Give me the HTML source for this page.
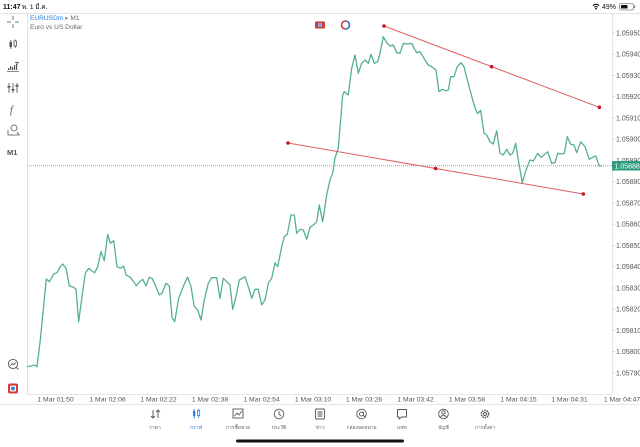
<!DOCTYPE html>
<html><head><meta charset="utf-8">
<style>
html,body{margin:0;padding:0;background:#fff;}
body{width:640px;height:447px;overflow:hidden;font-family:"Liberation Sans","Noto Sans CJK SC",sans-serif;}
svg{display:block;}
</style></head>
<body>
<svg width="640" height="447" viewBox="0 0 640 447" xmlns="http://www.w3.org/2000/svg" font-family="Liberation Sans, Noto Sans CJK SC, sans-serif">
<!-- status bar -->
<text x="3" y="9" font-size="7" font-weight="bold" fill="#111">11:47</text>
<text x="22" y="9" font-size="6.5" fill="#111">พ. 1 มี.ค.</text>
<g fill="#111">
<path d="M592.5 5.2 a5 5 0 0 1 7 0 l-0.8 0.8 a3.9 3.9 0 0 0 -5.4 0z"/>
<path d="M594 6.8 a2.8 2.8 0 0 1 4 0 l-0.8 0.8 a1.7 1.7 0 0 0 -2.4 0z"/>
<circle cx="596" cy="8.6" r="0.9"/>
</g>
<text x="602" y="9" font-size="7" fill="#111">49%</text>
<rect x="619.5" y="3.5" width="14" height="6.5" rx="1.6" fill="none" stroke="#888" stroke-width="0.8"/>
<rect x="621" y="5" width="6.5" height="3.5" rx="0.6" fill="#111"/>
<rect x="634" y="5.5" width="1.2" height="2.5" fill="#888"/>

<!-- frame lines -->
<line x1="0" y1="13.5" x2="640" y2="13.5" stroke="#e2e2e2" stroke-width="1"/>
<line x1="27.5" y1="13" x2="27.5" y2="394" stroke="#e2e2e2" stroke-width="1"/>
<line x1="27" y1="394.5" x2="612" y2="394.5" stroke="#e6e6e6" stroke-width="1"/>
<line x1="612.5" y1="13" x2="612.5" y2="394" stroke="#e6e6e6" stroke-width="1"/>
<line x1="0" y1="404.5" x2="640" y2="404.5" stroke="#e6e6e6" stroke-width="1"/>

<!-- header -->
<text x="30" y="20" font-size="6.6" fill="#2a7de1">EURUSDm <tspan fill="#888">▸</tspan> <tspan fill="#666">M1</tspan></text>
<text x="30" y="29" font-size="6.6" fill="#666">Euro vs US Dollar</text>

<!-- top icons -->
<rect x="315" y="21.5" width="10" height="7" rx="1" fill="#d23a36"/>
<rect x="318" y="23" width="4" height="4" fill="#7aa6e8"/>
<circle cx="345.5" cy="25" r="4" fill="none" stroke="#d23a36" stroke-width="1.6"/>
<path d="M345.5 21 a4 4 0 0 1 0 8" fill="none" stroke="#3b7fe0" stroke-width="1.6"/>

<!-- left toolbar -->
<g stroke="#666" stroke-width="0.9" fill="none">
<line x1="13" y1="16" x2="13" y2="20"/><line x1="13" y1="24" x2="13" y2="28"/>
<line x1="7" y1="22" x2="11" y2="22"/><line x1="15" y1="22" x2="19" y2="22"/>
</g>
<g fill="#555">
<rect x="9.5" y="42" width="2.5" height="5"/><rect x="10.3" y="40" width="0.9" height="9"/>
<rect x="14" y="41" width="2.5" height="5" fill="none" stroke="#555" stroke-width="0.8"/><rect x="14.8" y="39.5" width="0.9" height="1.5"/><rect x="14.8" y="46" width="0.9" height="2"/>
<rect x="8" y="68" width="1.2" height="2"/><rect x="10" y="66" width="1.2" height="4"/><rect x="12" y="67" width="1.2" height="3"/><rect x="14" y="65" width="1.2" height="5"/><rect x="16" y="64" width="1.2" height="6"/>
<rect x="15" y="62" width="4" height="0.9"/><rect x="16.6" y="62" width="0.9" height="3"/>
<rect x="7" y="71" width="12" height="0.7"/>
</g>
<g stroke="#555" stroke-width="0.9">
<line x1="9" y1="83" x2="9" y2="93"/><line x1="13" y1="83" x2="13" y2="93"/><line x1="17" y1="83" x2="17" y2="93"/>
</g>
<g fill="#555"><rect x="7.5" y="86" width="3" height="1.6"/><rect x="11.5" y="89" width="3" height="1.6"/><rect x="15.5" y="85" width="3" height="1.6"/></g>
<text x="10" y="113" font-size="10" font-style="italic" fill="#555" font-family="Liberation Serif, serif">f</text>
<g fill="none" stroke="#555" stroke-width="0.8">
<circle cx="14" cy="128" r="3"/><path d="M8 130 v5 h5"/><path d="M11 135 h8 l-2 -3"/>
</g>
<text x="7" y="155" font-size="7.5" font-weight="bold" fill="#555">M1</text>
<g fill="none" stroke="#555" stroke-width="0.9">
<circle cx="13" cy="364" r="4.6"/><path d="M16.5 367.5 l2 2"/><path d="M10.5 365.5 l1.7 -2 l1.5 1.3 l2 -2.2"/>
</g>
<rect x="8" y="383.5" width="10" height="10" rx="2" fill="#d23a36"/>
<rect x="10" y="385.5" width="6" height="6" rx="1" fill="#fff"/>
<circle cx="13" cy="388.5" r="2" fill="#3b7fe0"/>

<!-- y axis -->
<g font-size="7" fill="#555">
<text x="616" y="35.5">1.05950</text>
<text x="616" y="56.7">1.05940</text>
<text x="616" y="78">1.05930</text>
<text x="616" y="99.2">1.05920</text>
<text x="616" y="120.5">1.05910</text>
<text x="616" y="141.7">1.05900</text>
<text x="616" y="163">1.05890</text>
<text x="616" y="184.2">1.05880</text>
<text x="616" y="205.5">1.05870</text>
<text x="616" y="226.7">1.05860</text>
<text x="616" y="248">1.05850</text>
<text x="616" y="269.2">1.05840</text>
<text x="616" y="290.5">1.05830</text>
<text x="616" y="311.7">1.05820</text>
<text x="616" y="333">1.05810</text>
<text x="616" y="354.2">1.05800</text>
<text x="616" y="375.5">1.05790</text>
</g>
<g stroke="#ccc" stroke-width="0.8">
<line x1="612" y1="33" x2="615" y2="33"/><line x1="612" y1="54.2" x2="615" y2="54.2"/><line x1="612" y1="75.5" x2="615" y2="75.5"/><line x1="612" y1="96.7" x2="615" y2="96.7"/><line x1="612" y1="118" x2="615" y2="118"/><line x1="612" y1="139.2" x2="615" y2="139.2"/><line x1="612" y1="181.7" x2="615" y2="181.7"/><line x1="612" y1="203" x2="615" y2="203"/><line x1="612" y1="224.2" x2="615" y2="224.2"/><line x1="612" y1="245.5" x2="615" y2="245.5"/><line x1="612" y1="266.7" x2="615" y2="266.7"/><line x1="612" y1="288" x2="615" y2="288"/><line x1="612" y1="309.2" x2="615" y2="309.2"/><line x1="612" y1="330.5" x2="615" y2="330.5"/><line x1="612" y1="351.7" x2="615" y2="351.7"/><line x1="612" y1="373" x2="615" y2="373"/>
</g>

<!-- current price line -->
<line x1="27" y1="165.8" x2="612" y2="165.8" stroke="#6cbfa6" stroke-width="1" stroke-dasharray="1,1"/>
<rect x="612" y="161" width="28" height="9.5" fill="#2e9b7f"/>
<text x="614.5" y="168.5" font-size="7" fill="#fff">1.05888</text>

<!-- price series -->
<polyline fill="none" stroke="#56b08f" stroke-width="1.3" stroke-linejoin="round" points="27,366.7 32,365.7 34.3,365 37,366.7 40.3,340 46.3,279 49.3,281.7 53.7,274 57,272.7 60.3,266.7 62.7,264 66,268.3 69.3,286 73.7,287.3 76,289.3 78.7,321.7 82,296.7 85.3,273.3 88.7,268.3 92,271 94.7,272.7 97.7,266.7 101,251.7 104.3,260.7 107.7,234.3 110.3,243.3 113.7,240.7 117,266.7 120.3,268.3 123.7,266 126,275 130.3,277.3 133.7,281.7 136.3,285.7 139.7,281.7 142.7,279.3 146,286 149.3,277.3 152,278.3 155.3,285 159.3,295 162,293.3 166,283.3 169.3,286 172,317.3 174.7,321.7 178.7,298.3 183.5,286 187.5,277 191,286.7 194.3,306.7 197.7,310 201,320 204.3,300 208.3,283.3 211.7,277.7 216.7,277.7 220,298.3 223.3,278.3 226.7,281.7 230,285 232.7,309.3 236,296.7 239.3,280 245,276.7 248.3,286.7 251.7,298.3 255,289.3 258.3,289.3 261.7,305 265,300 268.3,283.3 271.7,278.3 275,262.7 277.7,266.7 281.7,246.7 284.3,236.7 287.3,234.3 291,215 294.3,215 296.7,233.3 300,229.3 303.3,230 306.7,239.3 310,227.3 313.3,225 316.7,221.7 319.3,205 322.7,221.7 326.7,195 330,180 332.7,173.3 335,158 338.3,148 342.7,95 344.3,91.7 348.3,95 351.7,68.3 355,55 358.3,73.3 361.7,63.3 365,60 368.3,63.3 371,54.3 374.3,63.3 377.7,61.7 380,53.3 383.3,36.7 386.7,42.7 390,46 393.3,45 396.7,52.7 400,53.3 403.3,43.3 407.3,44 411.7,43.3 414,48.3 416.7,52.7 420,51.7 424,58.3 428.3,65 431.7,66.7 436,70 439,91.7 442.3,89.3 446,90.7 448.3,90 450.7,76.7 454,76.7 457.3,66.7 461,62.7 464,66.7 467.3,80 470,90 473.3,102 475.5,109 477.5,113.5 480.7,110.5 484,133.3 486.7,135 490,141.7 493.3,144 496.7,130.7 500,153.3 503.3,155 506.7,149.3 510,155 512.7,153.3 515.7,143.3 518.3,160 522.3,182.7 526,170 530,160 533.3,161 537.7,153.3 541,157.3 544,155 547.7,151.7 551.7,163.3 555,162.7 557.7,153.3 561.7,154 564.3,153.3 567.3,136.7 570.7,144.3 574,145 576.7,152.7 580.7,141.7 585,146.7 589.3,159.3 592.7,157.3 595.7,156 599.3,166 601.7,166"/>

<!-- trend lines -->
<line x1="384" y1="26" x2="599.3" y2="107.3" stroke="#e06060" stroke-width="1"/>
<line x1="288" y1="143" x2="583.3" y2="194" stroke="#e06060" stroke-width="1"/>
<g fill="#c8141e">
<circle cx="384" cy="26" r="1.8"/><circle cx="491.6" cy="66.7" r="1.8"/><circle cx="599.3" cy="107.3" r="1.8"/>
<circle cx="288" cy="143" r="1.8"/><circle cx="435.6" cy="168.5" r="1.8"/><circle cx="583.3" cy="194" r="1.8"/>
</g>

<!-- x axis labels -->
<g font-size="6.8" fill="#555" text-anchor="middle">
<text x="55.5" y="401.5">1 Mar 01:50</text>
<text x="107.5" y="401.5">1 Mar 02:06</text>
<text x="158.5" y="401.5">1 Mar 02:22</text>
<text x="210" y="401.5">1 Mar 02:38</text>
<text x="261.5" y="401.5">1 Mar 02:54</text>
<text x="313" y="401.5">1 Mar 03:10</text>
<text x="364" y="401.5">1 Mar 03:26</text>
<text x="415.5" y="401.5">1 Mar 03:42</text>
<text x="467" y="401.5">1 Mar 03:58</text>
<text x="518.5" y="401.5">1 Mar 04:15</text>
<text x="569.5" y="401.5">1 Mar 04:31</text>
<text x="622" y="401.5">1 Mar 04:47</text>
</g>

<!-- tab bar icons -->
<g stroke="#555" stroke-width="0.9" fill="none">
<path d="M153 410 v8 M151 416 l2 2 l2 -2"/><path d="M158 418 v-8 M156 412 l2 -2 l2 2"/>
<rect x="233" y="409" width="10" height="9"/><path d="M234.5 416 l2.5 -3 l2 2 l3 -4"/>
<circle cx="279" cy="414" r="4.8"/><path d="M279 411 v3.3 l2.2 1.5"/>
<rect x="315.5" y="409" width="9" height="10" rx="1"/><path d="M317.5 412 h5 M317.5 414 h5 M317.5 416 h5"/>
<circle cx="361.5" cy="414" r="4.8"/><circle cx="361.5" cy="414" r="2"/><path d="M363.5 412 v3 a1.3 1.3 0 0 0 2.6 0"/>
<path d="M397.5 409.5 h9 v7.5 h-5 l-2.5 2 v-2 h-1.5z"/>
<circle cx="443.5" cy="414" r="4.8"/><circle cx="443.5" cy="412.5" r="1.7"/><path d="M440.5 417.5 a3.2 3 0 0 1 6 0"/>
<circle cx="485" cy="414" r="3.6" stroke-dasharray="1.4,0.9" stroke-width="1.6"/><circle cx="485" cy="414" r="1.5"/>
</g>
<g fill="#2a7de1">
<rect x="193" y="411" width="2.2" height="5"/><rect x="193.7" y="409" width="0.9" height="9.5"/>
<rect x="197.5" y="410.5" width="2.2" height="5" fill="none" stroke="#2a7de1" stroke-width="0.8"/><rect x="198.2" y="409" width="0.9" height="1.5"/><rect x="198.2" y="415.5" width="0.9" height="2.5"/>
</g>
<g font-size="5" fill="#666" text-anchor="middle">
<text x="155" y="429">ราคา</text>
<text x="196" y="429" fill="#2a7de1">กราฟ</text>
<text x="238" y="429">การซื้อขาย</text>
<text x="279" y="429">ประวัติ</text>
<text x="320" y="429">ข่าว</text>
<text x="361.5" y="429">กล่องจดหมาย</text>
<text x="402" y="429">แชท</text>
<text x="443.5" y="429">บัญชี</text>
<text x="485" y="429">การตั้งค่า</text>
</g>
<!-- home indicator -->
<rect x="236" y="439.5" width="168" height="3" rx="1.5" fill="#111"/>
</svg>
</body></html>
